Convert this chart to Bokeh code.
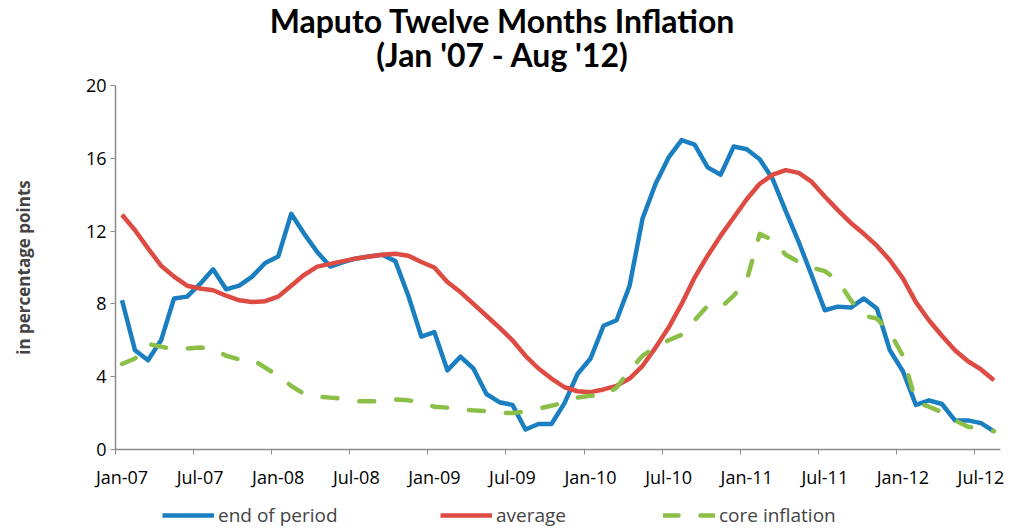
from bokeh.plotting import figure
from bokeh.models import Range1d, FixedTicker, Legend, LegendItem, Label
from bokeh.layouts import column
from bokeh.embed import file_html
from bokeh.resources import INLINE

# Monthly data Jan-07 .. Aug-12 (68 months)
end_of_period = [8.2, 5.45, 4.9, 6.0, 8.3, 8.4, 9.1, 9.9, 8.8, 9.0, 9.5, 10.25,
                 10.6, 12.95, 11.85, 10.85, 10.05, 10.3, 10.5, 10.6, 10.7, 10.35, 8.45, 6.2,
                 6.45, 4.35, 5.1, 4.45, 3.05, 2.6, 2.45, 1.1, 1.4, 1.4, 2.55, 4.15,
                 5.0, 6.8, 7.1, 9.0, 12.7, 14.6, 16.05, 17.0, 16.75, 15.5, 15.1, 16.65,
                 16.5, 15.95, 14.85, 13.1, 11.4, 9.55, 7.65, 7.85, 7.8, 8.3, 7.75, 5.45,
                 4.3, 2.45, 2.7, 2.5, 1.6, 1.6, 1.45, 1.0]
average = [12.9, 12.05, 11.05, 10.1, 9.5, 9.0, 8.85, 8.75, 8.45, 8.2, 8.1, 8.15,
           8.4, 9.0, 9.6, 10.05, 10.2, 10.35, 10.5, 10.6, 10.7, 10.75, 10.65, 10.3,
           10.0, 9.2, 8.65, 8.0, 7.35, 6.7, 6.0, 5.15, 4.45, 3.9, 3.42, 3.2,
           3.15, 3.3, 3.5, 3.9, 4.6, 5.6, 6.7, 8.0, 9.45, 10.65, 11.75, 12.75,
           13.75, 14.6, 15.1, 15.35, 15.2, 14.7, 13.9, 13.15, 12.45, 11.85, 11.2, 10.4,
           9.4, 8.1, 7.1, 6.25, 5.45, 4.85, 4.4, 3.8]
core_inflation = [4.7, 5.0, 5.8, 5.65, 5.5, 5.55, 5.6, 5.55, 5.15, 4.95, 4.95, 4.5,
                  4.05, 3.5, 3.05, 2.9, 2.85, 2.8, 2.65, 2.65, 2.65, 2.75, 2.7, 2.6,
                  2.35, 2.3, 2.2, 2.15, 2.1, 2.0, 2.0, 2.1, 2.25, 2.4, 2.6, 2.85,
                  2.95, 2.95, 3.4, 4.35, 5.15, 5.65, 6.0, 6.3, 7.1, 7.9, 7.8, 8.45,
                  9.3, 11.85, 11.5, 10.7, 10.3, 10.0, 9.8, 9.3, 8.2, 7.35, 7.2, 6.45,
                  5.15, 2.6, 2.35, 2.05, 1.6, 1.25, 1.15, 1.0]
tick_labels = ["Jan-07", "Jul-07", "Jan-08", "Jul-08", "Jan-09", "Jul-09",
               "Jan-10", "Jul-10", "Jan-11", "Jul-11", "Jan-12", "Jul-12"]
y_ticks = [0, 4, 8, 12, 16, 20]
title_lines = ["Maputo Twelve Months Inflation", "(Jan '07 - Aug '12)"]
series_names = ["end of period", "average", "core inflation"]

n = len(end_of_period)
x = [i + 0.5 for i in range(n)]
series = [end_of_period, average, core_inflation]

FONT = "Open Sans"
TFONT = "Lato"
AXIS_COLOR = "#8c8c8c"
COLORS = ["#1a7fc1", "#dd4b43", "#8bbf47"]
DASHES = ["solid", "solid", "15 22"]
W = 1008
TOP_H = 73


def blank(height):
    f = figure(width=W, height=height, output_backend="svg", toolbar_location=None,
               x_axis_location=None, y_axis_location=None, title=None,
               x_range=Range1d(1000, 1001), y_range=Range1d(1000, 1001),
               min_border=0, min_border_left=0, min_border_right=0,
               min_border_top=0, min_border_bottom=0)
    f.outline_line_color = None
    f.xgrid.visible = False
    f.ygrid.visible = False
    return f


# ---- title strip ----
p0 = blank(TOP_H)
for txt, ty in zip(title_lines, (TOP_H - 20, TOP_H - 54)):
    p0.add_layout(Label(x=387, y=ty, x_units="screen", y_units="screen", text=txt,
                        text_align="center", text_baseline="middle",
                        text_font=TFONT, text_font_size="32px", text_font_style="bold",
                        text_color="black"))

# ---- main chart ----
p = figure(frame_width=885, frame_height=364, output_backend="svg", toolbar_location=None,
           x_range=Range1d(0, n), y_range=Range1d(0, 20), title=None,
           min_border_left=115, min_border_right=8, min_border_top=12, min_border_bottom=46)
p.outline_line_color = None
p.xgrid.visible = False
p.ygrid.visible = False

for vals, c, d in zip(series, COLORS, DASHES):
    p.line(x, vals, line_color=c, line_width=4.5, line_dash=d,
           line_cap="round" if d != "solid" else "butt", line_join="round")

label_pos = [6 * k + 0.5 for k in range(len(tick_labels))]
p.xaxis.ticker = FixedTicker(ticks=label_pos, minor_ticks=[6 * k for k in range(len(tick_labels))])
p.xaxis.major_label_overrides = {pos: lab for pos, lab in zip(label_pos, tick_labels)}
p.xaxis.major_tick_out = 0
p.xaxis.major_tick_in = 0
p.xaxis.minor_tick_out = 5
p.xaxis.minor_tick_in = 0
p.xaxis.major_label_standoff = 10

p.yaxis.ticker = FixedTicker(ticks=y_ticks)
p.yaxis.major_tick_out = 5
p.yaxis.major_tick_in = 0
p.yaxis.major_label_standoff = 4
p.yaxis.axis_label = "in percentage points"
p.yaxis.axis_label_text_font = FONT
p.yaxis.axis_label_text_font_style = "bold"
p.yaxis.axis_label_text_font_size = "17px"
p.yaxis.axis_label_standoff = 48

for ax in (p.xaxis[0], p.yaxis[0]):
    ax.axis_line_color = AXIS_COLOR
    ax.axis_line_width = 1.5
    ax.major_tick_line_color = AXIS_COLOR
    ax.major_label_text_font = FONT
    ax.major_label_text_font_size = "18px"
    ax.major_label_text_color = "black"
p.xaxis.minor_tick_line_color = AXIS_COLOR
p.yaxis.minor_tick_line_color = None

# ---- legend strip (series drawn out of view; only the legend shows) ----
p1 = blank(34)
for name, vals, c, d, lx in zip(series_names, series, COLORS, DASHES, (47, 325, 548)):
    r = p1.line(x, vals, line_color=c, line_width=4.5, line_dash=d,
                line_cap="round" if d != "solid" else "butt")
    p1.add_layout(Legend(items=[LegendItem(label=name, renderers=[r])],
                         orientation="horizontal", location=(lx, 1),
                         glyph_width=52, glyph_height=16, label_standoff=4, label_height=16,
                         label_text_font=FONT, label_text_font_size="19px",
                         border_line_color=None, background_fill_alpha=0,
                         padding=0, margin=0), "center")

layout = column(p0, p, p1, spacing=0)
open("out.html", "w").write(file_html(layout, INLINE))
